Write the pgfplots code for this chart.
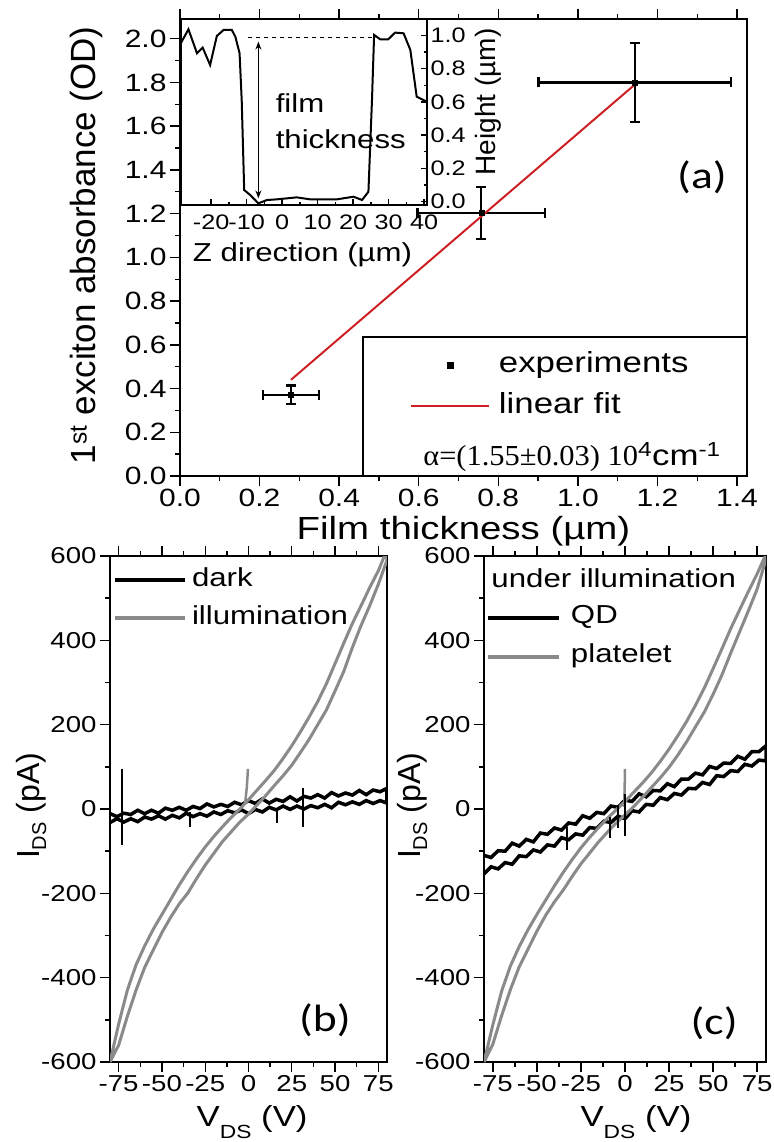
\documentclass[border=0pt]{standalone}
\usepackage{fontspec}
\setmainfont{Liberation Sans}[FakeStretch=1.2]
\newfontfamily\rotfont{Liberation Sans}
\newfontfamily\serffont{Liberation Serif}[FakeStretch=1.05]
\newfontfamily\panelfont{Carlito}[FakeStretch=1.2]
\usepackage{pgfplots}
\pgfplotsset{compat=1.18}
\usetikzlibrary{arrows.meta}

\definecolor{fitred}{RGB}{204,32,36}
\definecolor{curvegray}{RGB}{138,138,138}

\newcommand{\fs}[1]{\fontsize{#1bp}{#1bp}\selectfont}

\pgfplotsset{
  oribase/.style={
    scale only axis,
    anchor=north west,
    axis line style={line width=1.4bp},
    tick style={line width=1.4bp, black},
    major tick length=10bp,
    minor tick length=5bp,
    tick align=outside,
    /pgf/number format/assume math mode=true,
    tick label style={font=\fs{25}},
  },
  onedec/.style={/pgf/number format/.cd, fixed, fixed zerofill, precision=1},
}

\begin{document}
\begin{tikzpicture}
\path[use as bounding box] (0bp,0bp) rectangle (774bp,-1142bp);

% ---------- (a) absorbance vs film thickness
\begin{axis}[oribase,
  at={(180bp,-19bp)}, width=567bp, height=457bp,
  xmin=0, xmax=1.425, ymin=0, ymax=2.09,
  xtick={0,0.2,0.4,0.6,0.8,1.0,1.2,1.4}, minor x tick num=1,
  ytick={0,0.2,0.4,0.6,0.8,1.0,1.2,1.4,1.6,1.8,2.0}, minor y tick num=1,
  xtick pos=both, ytick pos=left,
  x tick label style={onedec}, y tick label style={onedec},
  xlabel={Film thickness (µm)},
  xlabel style={font=\fs{32}, at={(axis description cs:0.5,-0.138)}, anchor=base},
  ylabel={\rotfont 1\textsuperscript{st} exciton absorbance (OD)},
  ylabel style={font=\fs{35}, at={(axis description cs:-0.165,0.505)}, anchor=center},
  legend style={draw=none, fill=none, inner sep=0pt, outer sep=0pt,
    at={(rel axis cs:0.4056,0.197)}, anchor=west, font=\fs{29},
    row sep=13bp,
    nodes={inner sep=0pt, text height=21bp, text depth=7bp},
    /tikz/every odd column/.append style={column sep=9bp}},
  legend cell align=left,
]
\addplot[black, only marks, mark=square*, mark size=2.5bp,
  legend image code/.code={\fill[black] (36bp,-3bp) rectangle (42bp,3bp);},
  error bars/.cd, x dir=both, x explicit, y dir=both, y explicit,
  error bar style={line width=2.5bp, black},
  error mark options={rotate=90, mark size=5bp, line width=2.5bp, black}]
  coordinates {
    (0.279,0.371) +- (0.070,0.042)
    (0.757,1.203) +- (0.160,0.119)
    (1.143,1.800) +- (0.242,0.181)
  };
\addlegendentry{experiments}
\addplot[fitred, line width=2bp,
  legend image code/.code={\draw[fitred, line width=2bp] (0bp,0bp) -- (78bp,0bp);}]
  coordinates {(0.279,0.440) (1.143,1.790)};
\addlegendentry{linear fit}
\draw[line width=1.4bp] (rel axis cs:0.3228,0) rectangle (rel axis cs:1,0.3042);
\node[anchor=base west, font=\fs{29}] at (rel axis cs:0.423,0.024)
  {{\serffont α=(1.55±0.03) 10}\textsuperscript{4}cm\textsuperscript{-1}};
\node[font=\panelfont\fs{38}] at (rel axis cs:0.9206,0.654) {(a)};
\end{axis}

% ---------- inset: height profile
\begin{axis}[oribase,
  at={(181bp,-19bp)}, width=246bp, height=186bp,
  axis background/.style={fill=white},
  xmin=-28.5, xmax=40.8, ymin=-0.021, ymax=1.099,
  xtick={-20,-10,0,10,20,30,40}, minor x tick num=1,
  ytick={0,0.2,0.4,0.6,0.8,1.0}, minor y tick num=1,
  tick align=inside, major tick length=6bp, minor tick length=3bp,
  xtick pos=bottom, ytick pos=right, yticklabel pos=right,
  tick label style={font=\fs{21}},
  x tick label style={yshift=-6bp},
  y tick label style={onedec},
  xlabel={Z direction (µm)},
  xlabel style={font=\fs{26}, at={(axis description cs:0.494,-0.269)}, anchor=center},
  ylabel={\rotfont Height (µm)},
  ylabel style={font=\fs{28}, at={(axis description cs:1.248,0.554)}, anchor=center, rotate=0},
]
\addplot[black, line width=2bp] coordinates {
  (-28.5,0.955) (-28.3,0.963) (-26.4,1.037) (-24.0,0.893) (-22.4,0.927)
  (-20.3,0.822) (-18.4,0.997) (-16.5,1.033) (-14.2,1.033) (-13.2,0.993)
  (-12.0,0.893) (-11.4,0.611) (-10.7,0.069) (-9.0,0.039) (-6.7,-0.011)
  (-4.3,0.009) (-1.5,0.013) (4.1,0.025) (7.9,0.013) (15.4,0.013)
  (20.1,0.029) (22.5,0.009) (24.3,0.059) (25.3,0.611) (25.9,1.003)
  (27.6,0.977) (29.9,0.977) (31.8,1.017) (34.2,1.013) (36.1,0.913)
  (37.9,0.631) (39.8,0.611) (40.8,0.601)
};
\draw[black, line width=1.2bp, dash pattern=on 4bp off 4bp]
  (axis cs:-9.6,0.987) -- (axis cs:25.6,0.987);
\draw[black, line width=1.2bp, {Stealth[length=8bp,width=6bp]}-{Stealth[length=8bp,width=6bp]}]
  (axis cs:-6.7,0.963) -- (axis cs:-6.7,0.019);
\node[anchor=base west, font=\fs{26}] at (axis cs:-2.8,0.533) {film};
\node[anchor=base west, font=\fs{26}] at (axis cs:-2.8,0.322) {thickness};
\end{axis}

% ---------- (b) dark / illumination
\begin{axis}[oribase,
  at={(110bp,-556bp)}, width=277bp, height=506bp,
  xmin=-80, xmax=80, ymin=-600, ymax=600,
  xtick={-75,-50,-25,0,25,50,75}, minor x tick num=1,
  ytick={-600,-400,-200,0,200,400,600}, minor y tick num=1,
  xtick pos=both, ytick pos=left,
  tick label style={font=\fs{23}},
  xlabel={V\raisebox{-12bp}{\fs{19}DS} (V)},
  xlabel style={font=\fs{29}, at={(axis description cs:0.513,-0.128)}, anchor=base},
  ylabel={\rotfont I\raisebox{-7bp}{\fs{20}DS} (pA)},
  ylabel style={font=\fs{32}, at={(axis description cs:-0.285,0.506)}, anchor=center},
  legend style={draw=none, fill=none, inner sep=0pt, outer sep=0pt,
    at={(rel axis cs:0.011,0.915)}, anchor=west, font=\fs{26},
    row sep=12bp,
    nodes={inner sep=0pt, text height=19bp, text depth=7bp},
    /tikz/every odd column/.append style={column sep=5bp}},
  legend cell align=left,
  legend image code/.code={\draw[#1, line width=4bp] (0bp,0bp) -- (70bp,0bp);},
]
\addplot[black, line width=3.5bp] coordinates {
  (-80,-11) (-76,-18) (-72,-10) (-68,-13) (-64,-3) (-60,-11) (-56,-3) (-52,-10)
  (-48,2) (-44,-3) (-40,4) (-36,-3) (-32,6) (-28,1) (-24,12) (-20,5) (-16,11)
  (-12,6) (-8,16) (-4,10) (0,20) (4,13) (8,24) (12,14) (16,23) (20,18) (24,29)
  (28,19) (32,30) (36,26) (40,34) (44,26) (48,39) (52,31) (56,38) (60,33)
  (64,44) (68,34) (72,45) (76,41) (80,49)
  (80,14) (76,20) (72,13) (68,20) (64,11) (60,17) (56,10) (52,16) (48,3) (44,11)
  (40,3) (36,8) (32,0) (28,7) (24,-1) (20,7) (16,-2) (12,4) (8,-7) (4,-1) (0,-11)
  (-4,-2) (-8,-9) (-12,-4) (-16,-13) (-20,-7) (-24,-17) (-28,-11) (-32,-18)
  (-36,-10) (-40,-21) (-44,-15) (-48,-24) (-52,-16) (-56,-24) (-60,-19) (-64,-30)
  (-68,-23) (-72,-31) (-76,-23) (-80,-32)
};
\addlegendentry{dark}
\addplot[curvegray, line width=3bp] coordinates {
  (-80,-600) (-75,-510) (-70,-430) (-65,-370) (-60,-325) (-55,-285) (-50,-250)
  (-45,-215) (-40,-180) (-35,-148) (-30,-118) (-25,-90) (-20,-65) (-15,-42)
  (-10,-20) (-5,0) (0,22) (5,45) (10,68) (15,92) (20,120) (25,150) (30,183)
  (35,218) (40,255) (45,297) (50,345) (55,393) (60,440) (65,482) (70,525)
  (75,565) (78.5,600) (80,615)
  (80,590) (75,533) (70,482) (65,435) (60,383) (55,326) (50,280) (45,235)
  (40,200) (35,165) (30,134) (25,104) (20,79) (15,56) (10,32) (5,10) (0,-12)
  (-5,-31) (-10,-54) (-15,-77) (-20,-105) (-25,-133) (-30,-165) (-35,-199)
  (-40,-225) (-45,-257) (-50,-293) (-55,-334) (-60,-376) (-65,-430) (-70,-492)
  (-75,-560) (-80,-600)
};
\addlegendentry{illumination}
\addplot[curvegray, line width=2.5bp, forget plot] coordinates {(-2,12) (-1,50) (-0.3,95)};
\addplot[black, line width=2bp, forget plot] coordinates {(-73,-85) (-73,95)};
\addplot[black, line width=2bp, forget plot] coordinates {(-34,-8) (-34,-42)};
\addplot[black, line width=2bp, forget plot] coordinates {(16.5,-2) (16.5,-32)};
\addplot[black, line width=2bp, forget plot] coordinates {(31.6,50) (31.6,-43)};
\node[font=\panelfont\fs{38}] at (rel axis cs:0.776,0.083) {(b)};
\end{axis}

% ---------- (c) QD / platelet under illumination
\begin{axis}[oribase,
  at={(484bp,-556bp)}, width=282bp, height=506bp,
  xmin=-80, xmax=80, ymin=-600, ymax=600,
  xtick={-75,-50,-25,0,25,50,75}, minor x tick num=1,
  ytick={-600,-400,-200,0,200,400,600}, minor y tick num=1,
  xtick pos=both, ytick pos=left,
  tick label style={font=\fs{23}},
  xlabel={V\raisebox{-12bp}{\fs{19}DS} (V)},
  xlabel style={font=\fs{29}, at={(axis description cs:0.539,-0.128)}, anchor=base},
  ylabel={\rotfont I\raisebox{-7bp}{\fs{20}DS} (pA)},
  ylabel style={font=\fs{32}, at={(axis description cs:-0.255,0.506)}, anchor=center},
  legend style={draw=none, fill=none, inner sep=0pt, outer sep=0pt,
    at={(rel axis cs:0.007,0.839)}, anchor=west, font=\fs{26},
    row sep=13bp,
    nodes={inner sep=0pt, text height=19bp, text depth=7bp},
    /tikz/every odd column/.append style={column sep=10bp}},
  legend cell align=left,
  legend image code/.code={\draw[#1, line width=4bp] (0bp,0bp) -- (71bp,0bp);},
]
\addplot[black, line width=3.5bp] coordinates {
  (-80,-110) (-76,-115) (-72,-99) (-68,-100) (-64,-81) (-60,-88) (-56,-72)
  (-52,-78) (-48,-57) (-44,-60) (-40,-45) (-36,-50) (-32,-33) (-28,-36)
  (-24,-16) (-20,-22) (-16,-8) (-12,-11) (-8,7) (-4,4) (0,21) (4,18) (8,36)
  (12,29) (16,44) (20,43) (24,60) (28,53) (32,71) (36,71) (40,85) (44,81)
  (48,101) (52,96) (56,109) (60,108) (64,125) (68,118) (72,136) (76,136) (80,150)
  (80,114) (76,116) (72,102) (68,106) (64,89) (60,91) (56,77) (52,79) (48,58)
  (44,63) (40,48) (36,49) (32,33) (28,37) (24,22) (20,27) (16,9) (12,11) (8,-7)
  (4,-4) (0,-23) (-4,-17) (-8,-32) (-12,-29) (-16,-46) (-20,-44) (-24,-62)
  (-28,-59) (-32,-73) (-36,-68) (-40,-88) (-44,-85) (-48,-102) (-52,-97)
  (-56,-113) (-60,-111) (-64,-131) (-68,-127) (-72,-142) (-76,-137) (-80,-154)
};
\addlegendentry{QD}
\addplot[curvegray, line width=3bp] coordinates {
  (-80,-600) (-75,-512) (-70,-432) (-65,-372) (-60,-326) (-55,-286) (-50,-250)
  (-45,-216) (-40,-182) (-35,-150) (-30,-120) (-25,-92) (-20,-67) (-15,-44)
  (-10,-22) (-5,-2) (0,18) (5,40) (10,62) (15,86) (20,113) (25,142) (30,174)
  (35,208) (40,246) (45,287) (50,333) (55,380) (60,428) (65,472) (70,516)
  (75,558) (79.5,600) (80,610)
  (80,592) (75,522) (70,470) (65,420) (60,370) (55,318) (50,272) (45,230)
  (40,195) (35,160) (30,128) (25,99) (20,74) (15,51) (10,28) (5,6) (0,-14)
  (-5,-33) (-10,-55) (-15,-78) (-20,-104) (-25,-130) (-30,-160) (-35,-192)
  (-40,-220) (-45,-252) (-50,-290) (-55,-332) (-60,-374) (-65,-428) (-70,-490)
  (-75,-558) (-80,-600)
};
\addlegendentry{platelet}
\addplot[curvegray, line width=2.5bp, forget plot] coordinates {(-0.5,5) (-0.2,50) (0,95)};
\addplot[black, line width=2bp, forget plot] coordinates {(-33,-43) (-33,-97)};
\addplot[black, line width=2bp, forget plot] coordinates {(-8.7,-18) (-8.7,-69)};
\addplot[black, line width=2bp, forget plot] coordinates {(-4,10) (-4,-45)};
\addplot[black, line width=2bp, forget plot] coordinates {(0,35) (0,-64)};
\node[anchor=west, font=\fs{26}] at (rel axis cs:0.014,0.9565) {under illumination};
\node[font=\panelfont\fs{38}] at (rel axis cs:0.816,0.077) {(c)};
\end{axis}
\end{tikzpicture}
\end{document}
